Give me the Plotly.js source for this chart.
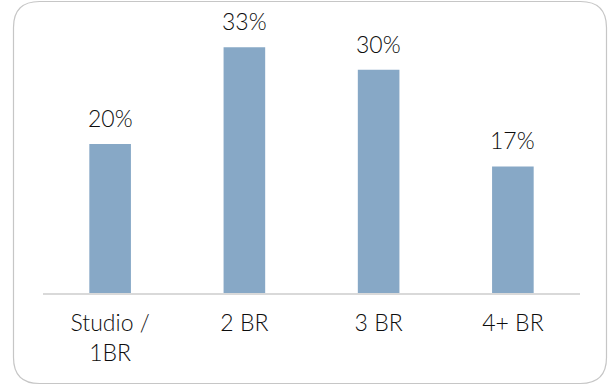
<!DOCTYPE html>
<html>
<head>
<meta charset="utf-8">
<script src="https://cdn.plot.ly/plotly-3.0.1.min.js"></script>
<style>
  html, body { margin: 0; padding: 0; background: #ffffff; }
  #chart { width: 608px; height: 385px; }
</style>
</head>
<body>
<div id="chart"></div>
<script>
// Unit mix by bedroom count
const categories = ["Studio /<br>1BR", "2 BR", "3 BR", "4+ BR"];
const shares = [0.20, 0.33, 0.30, 0.17];
const shareLabels = ["20%", "33%", "30%", "17%"];

const W = 608, H = 385;
const M = { l: 43, r: 28, t: 25, b: 92 };
const plotW = W - M.l - M.r;
const plotH = H - M.t - M.b;

// pixel -> paper helpers for the rounded frame
const px = x => (x - M.l) / plotW;
const py = y => (H - M.b - y) / plotH;

function roundedFrame(x0, y0, x1, y1, r) {
  return [
    "M", px(x0 + r), py(y0),
    "L", px(x1 - r), py(y0),
    "Q", px(x1), py(y0), px(x1), py(y0 + r),
    "L", px(x1), py(y1 - r),
    "Q", px(x1), py(y1), px(x1 - r), py(y1),
    "L", px(x0 + r), py(y1),
    "Q", px(x0), py(y1), px(x0), py(y1 - r),
    "L", px(x0), py(y0 + r),
    "Q", px(x0), py(y0), px(x0 + r), py(y0),
    "Z"
  ].join(" ");
}

const font = { family: "Lato, 'Noto Sans', sans-serif", size: 23, color: "#0d0d0d", weight: 300 };

const trace = {
  type: "bar",
  x: categories,
  y: shares,
  marker: { color: "#87a8c6", line: { width: 0 } },
  hoverinfo: "skip"
};

const layout = {
  width: W,
  height: H,
  margin: M,
  paper_bgcolor: "#ffffff",
  plot_bgcolor: "#ffffff",
  showlegend: false,
  bargap: 0.69,
  font: font,
  xaxis: {
    type: "category",
    showline: true,
    linecolor: "#d9d9d9",
    linewidth: 1.5,
    ticks: "",
    showgrid: false,
    zeroline: false,
    tickfont: font,
    ticklabelstandoff: 9,
    fixedrange: true
  },
  yaxis: {
    range: [0, 0.36],
    visible: false,
    showgrid: false,
    zeroline: false,
    fixedrange: true
  },
  annotations: categories.map((c, i) => ({
    x: c,
    y: shares[i],
    xref: "x",
    yref: "y",
    text: shareLabels[i],
    showarrow: false,
    yanchor: "bottom",
    yshift: 10,
    font: font
  })),
  shapes: [{
    type: "path",
    xref: "paper",
    yref: "paper",
    path: roundedFrame(13.5, 1.5, 606.5, 383.5, 26),
    line: { color: "#c6c6c6", width: 1.2 },
    fillcolor: "rgba(0,0,0,0)",
    layer: "above"
  }]
};

Plotly.newPlot("chart", [trace], layout, { displayModeBar: false, staticPlot: true });
</script>
</body>
</html>
